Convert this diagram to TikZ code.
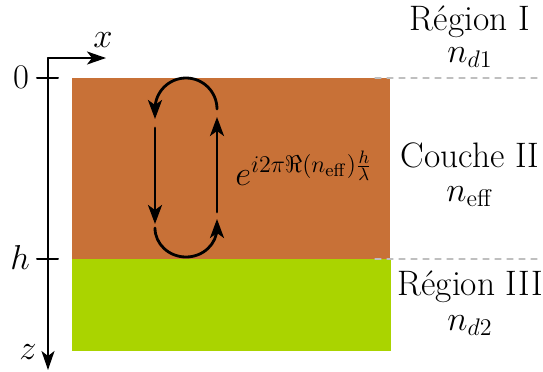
\documentclass[tikz,border=0pt]{standalone}
\usepackage{amssymb}
\usetikzlibrary{arrows.meta}
\definecolor{Lbrown}{RGB}{200,113,55}
\definecolor{Lgreen}{RGB}{170,212,0}

\begin{document}
\begin{tikzpicture}[x=0.5pt,y=-0.5pt,line cap=round,line join=round,
  axe/.style={line width=1pt,-{Stealth[length=9.5pt,width=6.5pt,inset=2.5pt]}},
  trajet/.style={line width=1.4pt,-{Stealth[length=9.5pt,width=7pt,inset=2.5pt]}},
  lbl/.style={font=\fontsize{18}{21}\selectfont,inner sep=0pt},
  region/.style={font=\fontsize{17.7}{21}\selectfont,inner sep=0pt,align=center}]
\path[use as bounding box] (0,0) rectangle (543,371);
% couches
\fill[Lbrown] (72,78) rectangle (390,259);
\fill[Lgreen] (72,259) rectangle (391,351);
\draw[gray!50,dashed,line width=0.6pt] (375,78) -- (540,78);
\draw[gray!50,dashed,line width=0.6pt] (375,259) -- (540,259);
% axes
\coordinate (O) at (48,58);
\coordinate (Xend) at (106,58);
\coordinate (Zend) at (48,370);
\draw[axe] (O) -- (Xend);
\draw[axe] (O) -- (Zend);
\draw[line width=1pt] (37,78) -- (58,78);
\draw[line width=1pt] (37,259) -- (58,259);
\node[lbl] (lx) at (103,40) {$x$};
\node[lbl] (lz) at (28,352) {$z$};
\node[lbl] (l0) at (21,77) {$0$};
\node[lbl] (lh) at (20,257) {$h$};
% aller-retour
\coordinate (a1) at (217,109);
\coordinate (a2) at (155,128);
\coordinate (a3) at (155,224);
\coordinate (a4) at (155,228);
\coordinate (a5) at (217,212);
\coordinate (a6) at (217,117);
\draw[trajet] (a1) arc[start angle=0,end angle=-180,radius=31] -- ++(0,10);
\draw[trajet] (a2) -- (a3);
\draw[trajet] (a4) arc[start angle=180,end angle=0,x radius=31,y radius=29] -- ++(0,-9);
\draw[trajet] (a5) -- (a6);
\node[inner sep=0pt,font=\fontsize{18.2}{21}\selectfont,anchor=base] (phase) at (304,185) {$e^{i2\pi\Re(n_{\mathrm{eff}})\frac{h}{\lambda}}$};
% regions
\node[region,anchor=base] (r1) at (470,62) {Région I\\[-5pt]$n_{d1}$};
\node[region,anchor=base] (r2) at (470,201) {Couche II\\[-4pt]$n_{\mathrm{eff}}$};
\node[region,anchor=base] (r3) at (470,330) {Région III\\[-3.5pt]$n_{d2}$};
\end{tikzpicture}
\end{document}
